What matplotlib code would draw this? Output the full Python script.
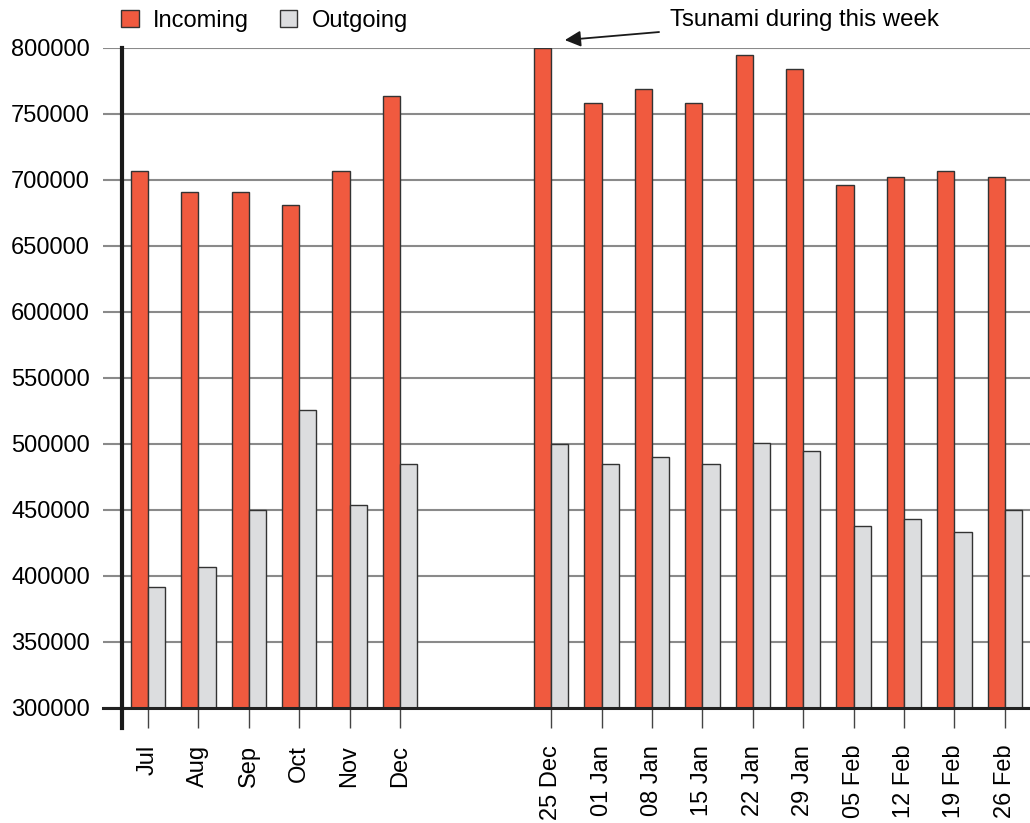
import matplotlib.pyplot as plt
import numpy as np
from matplotlib.patches import Patch

plt.rcParams['font.family'] = ['Liberation Sans', 'DejaVu Sans']

labels = ['Jul', 'Aug', 'Sep', 'Oct', 'Nov', 'Dec',
          '25 Dec', '01 Jan', '08 Jan', '15 Jan', '22 Jan', '29 Jan',
          '05 Feb', '12 Feb', '19 Feb', '26 Feb']
incoming = [707000, 691000, 691000, 681000, 707000, 764000,
            800000, 758000, 769000, 758000, 795000, 784000,
            696000, 702000, 707000, 702000]
outgoing = [392000, 407000, 450000, 526000, 454000, 485000,
            500000, 485000, 490000, 485000, 501000, 495000,
            438000, 443000, 433000, 450000]

# monthly part, then two empty slots, then weekly part
pos = np.array(list(range(6)) + list(range(8, 18)), dtype=float)

red = '#F05A3F'
grey = '#DCDDDF'
w = 0.34

fig = plt.figure(figsize=(10.3, 8.23), dpi=100)
ax = fig.add_axes([0.1, 1 - 708 / 823, 0.9, (708 - 48) / 823])

ax.bar(pos - w / 2, incoming, w, color=red, edgecolor='#333333', linewidth=1, zorder=3)
ax.bar(pos + w / 2, outgoing, w, color=grey, edgecolor='#333333', linewidth=1, zorder=3)

ax.set_ylim(300000, 800000)
ax.set_xlim(-0.893, 17.5)
ax.set_yticks(np.arange(300000, 800001, 50000))
ax.yaxis.grid(True, color='#8a8a8a', linewidth=1.5, zorder=0)
ax.axhline(300000, color='#222222', linewidth=2.2, zorder=4, clip_on=False)

for s in ['top', 'right', 'bottom']:
    ax.spines[s].set_visible(False)
ax.spines['left'].set_position(('data', -0.516))
ax.spines['left'].set_linewidth(3)
ax.spines['left'].set_color('#1a1a1a')
ax.spines['left'].set_bounds(284800, 800000)
ax.spines['left'].set_zorder(5)

ax.set_xticks(pos)
ax.set_xticklabels(labels, rotation=90, fontsize=17)
ax.tick_params(axis='x', length=14.5, width=1, color='#444444', pad=12)
ax.tick_params(axis='y', length=0, labelsize=17, pad=23)

handles = [Patch(facecolor=red, edgecolor='#333333', label='Incoming'),
           Patch(facecolor=grey, edgecolor='#333333', label='Outgoing')]
ax.legend(handles=handles, ncol=2, frameon=False, loc='center left',
          bbox_to_anchor=(0.097, 0.975), bbox_transform=fig.transFigure,
          fontsize=17, handlelength=0.75, handleheight=0.75,
          handletextpad=0.6, columnspacing=1.3)

ax.annotate('Tsunami during this week', xy=(8.27, 806000), xytext=(10.36, 821500),
            fontsize=17.3, va='center', ha='left', annotation_clip=False,
            arrowprops=dict(arrowstyle='-|>', color='#1a1a1a', lw=1.3,
                            mutation_scale=24, shrinkA=6, shrinkB=0))

fig.savefig('out.png', dpi=100)
